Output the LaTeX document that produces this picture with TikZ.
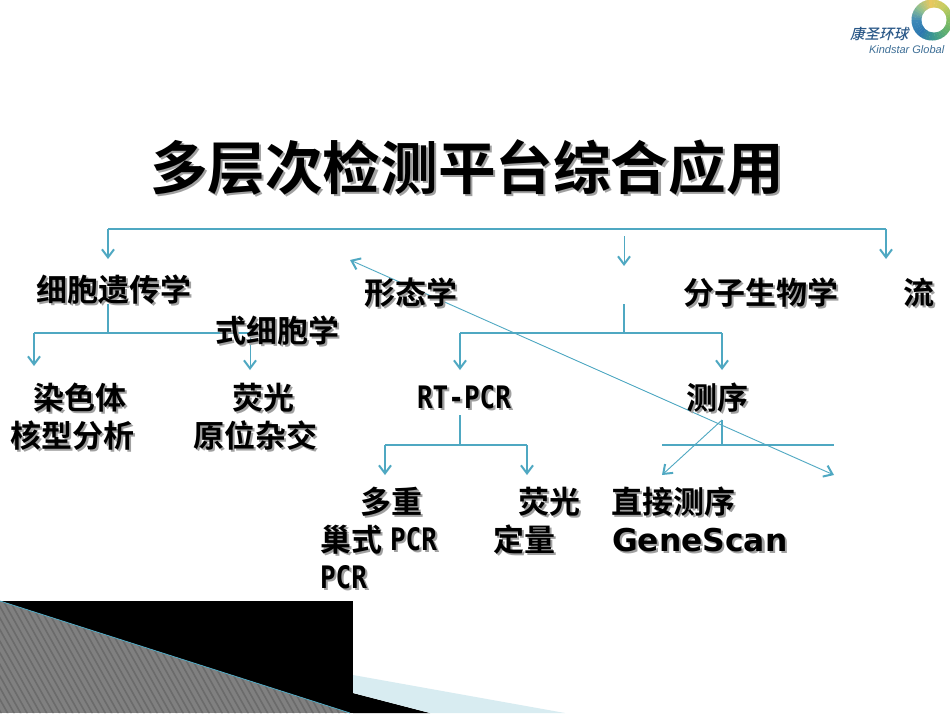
\documentclass[tikz,border=0pt]{standalone}
\usepackage{fontspec}
\usetikzlibrary{arrows.meta,calc}
\newfontfamily\cjkb{Noto Sans CJK SC Bold}
\newfontfamily\cjkm{Noto Sans CJK SC Medium}
\newfontfamily\monob[FakeStretch=0.84]{DejaVu Sans Mono Bold}
\newfontfamily\sansb{DejaVu Sans Bold}
\newfontfamily\liti{Liberation Sans Italic}
\definecolor{conn}{HTML}{4FA8C2}
\definecolor{shad}{HTML}{A0A0A0}
\definecolor{logoa}{HTML}{2A5888}
\definecolor{logob}{HTML}{3D6E96}
\newcommand{\cjktxt}{\cjkb\fontsize{31}{31}\selectfont}
\newcommand{\monotxt}{\monob\fontsize{31}{31}\selectfont}
\newcommand{\lbl}[4][\cjktxt]{%
  \node[txtbase,text=shad] at ($(#3)+(2.2,2.2)$) {#1#4};
  \node[txtbase] (#2) at (#3) {#1#4};}
\tikzset{
  x=1pt,y=-1pt,
  txtbase/.style={anchor=base west,inner sep=0pt,outer sep=0pt,text=black},
  link/.style={draw=conn,line width=1.2pt},
  thinlink/.style={draw=conn,line width=0.9pt},
  arr/.style={-{Straight Barb[length=8pt,width=12pt,line width=2pt]}},
  arrb/.style={{Straight Barb[length=8pt,width=12pt,line width=2pt]}-{Straight Barb[length=8pt,width=12pt,line width=2pt]}},
}
\definecolor{r0}{HTML}{8CC060}
\definecolor{r1}{HTML}{C8CC60}
\definecolor{r2}{HTML}{E8C860}
\definecolor{r3}{HTML}{90C090}
\definecolor{r4}{HTML}{3C88B8}
\definecolor{r5}{HTML}{2C78B0}
\definecolor{r6}{HTML}{3C9890}
\definecolor{r7}{HTML}{60B070}
\definecolor{r8}{HTML}{8CC060}
\begin{document}
\begin{tikzpicture}
\useasboundingbox (0,0) rectangle (950,713);
\fill[white] (0,0) rectangle (950,713);
% bottom decoration
\fill[black] (0,601) rectangle (353,713);
\fill[black] (353,693) -- (430,713) -- (353,713) -- cycle;
\fill[conn!22!white] (353,675) -- (565,713) -- (430,713) -- (353,693) -- cycle;
\begin{scope}
\clip (0,601) -- (350,713) -- (0,713) -- cycle;
\fill[black!50] (0,601) rectangle (353,713);
\foreach \k in {-12,...,56}{
  \draw[black!58,line width=1.6pt] ({\k*6.5},595) -- ({\k*6.5+70},720);
}
\end{scope}
\draw[conn,line width=0.8pt] (0,601) -- (350,713);
% logo
\begin{scope}
\clip (905,0) rectangle (950,45);
\foreach \s/\n [evaluate=\s as \base using int(\s*45)] in {0/1,1/2,2/3,3/4,4/5,5/6,6/7,7/8}{
  \foreach \t in {0,1,2,3,4}{
    \pgfmathsetmacro{\pct}{100-\t*20}
    \colorlet{seg}{r\s!\pct!r\n}
    \pgfmathsetmacro{\aa}{\base+\t*9}
    \fill[seg] (932,20) -- ({932+20.5*cos(\aa)},{20-20.5*sin(\aa)}) -- ({932+20.5*cos(\aa+5)},{20-20.5*sin(\aa+5)}) -- ({932+20.5*cos(\aa+10)},{20-20.5*sin(\aa+10)}) -- cycle;
  }
}
\fill[white] (934,20) circle[radius=12.5];
\end{scope}
\node[txtbase,text=logoa,xslant=0.25] (lga) at (850,39) {\cjkm\fontsize{14.5}{14.5}\selectfont 康圣环球};
\node[txtbase,text=logob] (lgb) at (869,53) {\liti\fontsize{11}{11}\selectfont Kindstar Global};
% title
\lbl[\cjkb\fontsize{57.6}{57.6}\selectfont]{title}{150,189}{多层次检测平台综合应用}
% connectors
\coordinate (topL) at (108,229);
\coordinate (topR) at (886,229);
\coordinate (a1) at (108,259);
\coordinate (a2s) at (624,236);
\coordinate (a2) at (624,266);
\coordinate (a3) at (886,259);
\draw[link,arr] (topR) -- (a3);
\draw[link] (topR) -- (topL);
\draw[link,arr] (topL) -- (a1);
\draw[thinlink,arr] (a2s) -- (a2);
\coordinate (c1) at (108,304);
\coordinate (c2) at (108,333);
\coordinate (c3) at (34,333);
\coordinate (c4) at (250,333);
\coordinate (c5) at (34,366);
\coordinate (c6) at (250,370);
\draw[link] (c1) -- (c2);
\draw[link] (c3) -- (c4);
\draw[link,arr] (c3) -- (c5);
\draw[thinlink,arr] (c4) -- (c6);
\coordinate (m1) at (624,304);
\coordinate (m2) at (624,333);
\coordinate (m3) at (460,333);
\coordinate (m4) at (722,333);
\coordinate (m5) at (460,370);
\coordinate (m6) at (722,370);
\draw[link] (m1) -- (m2);
\draw[link] (m3) -- (m4);
\draw[link,arr] (m3) -- (m5);
\draw[link,arr] (m4) -- (m6);
\coordinate (r1) at (460,415);
\coordinate (r2) at (460,445);
\coordinate (r3) at (385,445);
\coordinate (r4) at (527,445);
\coordinate (r5) at (385,475);
\coordinate (r6) at (527,475);
\draw[link] (r1) -- (r2);
\draw[link] (r3) -- (r4);
\draw[link,arr] (r3) -- (r5);
\draw[link,arr] (r4) -- (r6);
\coordinate (s1) at (722,420);
\coordinate (s2) at (722,445);
\coordinate (s3) at (662,445);
\coordinate (s4) at (834,445);
\coordinate (s5) at (662,475);
\coordinate (d1) at (350,260);
\coordinate (d2) at (834,475);
\draw[link] (s1) -- (s2);
\draw[link] (s3) -- (s4);
\draw[thinlink,arr] (s1) -- (s5);
\draw[thinlink,arrb] (d1) -- (d2);
% labels
\lbl{xb}{36,301}{细胞遗传学}
\lbl{xt}{364,304}{形态学}
\lbl{fz}{683,304}{分子生物学}
\lbl{liu}{903,304}{流}
\lbl{sx}{215,342}{式细胞学}
\lbl{rs}{33,409}{染色体}
\lbl{hx}{10,447}{核型分析}
\lbl{yg}{232,409}{荧光}
\lbl{yw}{193,447}{原位杂交}
\lbl[\monotxt]{rt}{417,408}{RT-PCR}
\lbl{cx}{686,409}{测序}
\lbl{dc}{360,513}{多重}
\lbl{cs}{320,551}{巢式}
\lbl[\monotxt]{pa}{390,550}{PCR}
\lbl[\monotxt]{pb}{320,588}{PCR}
\lbl{yl}{518,513}{荧光}
\lbl{dl}{493,551}{定量}
\lbl{zj}{611,513}{直接测序}
\lbl[\sansb\fontsize{31.4}{31.4}\selectfont]{gs}{612,551}{GeneScan}
\end{tikzpicture}
\end{document}
